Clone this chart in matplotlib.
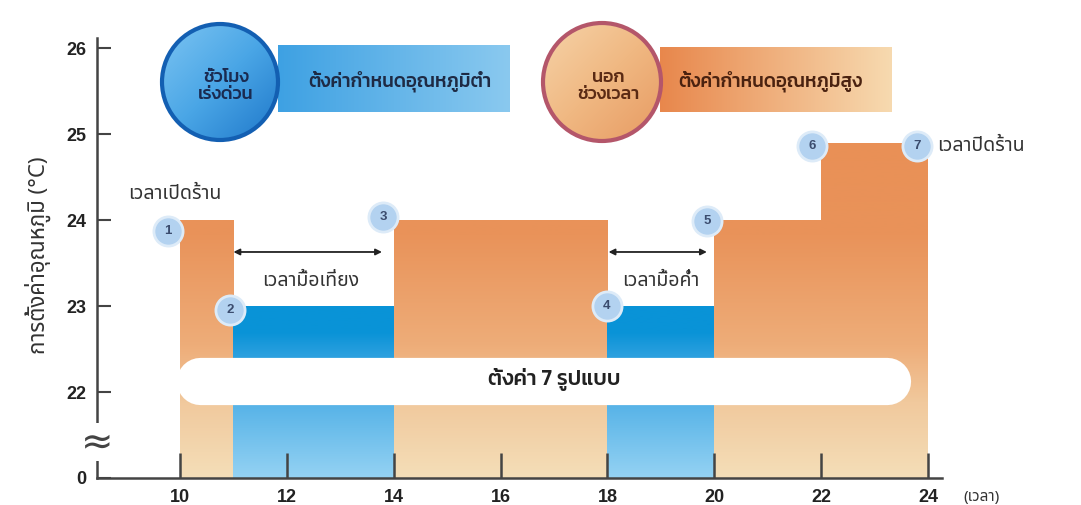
import numpy as np
import matplotlib
matplotlib.use("Agg")
import matplotlib.pyplot as plt
from matplotlib.patches import Circle, Rectangle
from matplotlib.colors import LinearSegmentedColormap
from matplotlib.ticker import FixedLocator, NullLocator

plt.rcParams['font.family'] = ['Noto Sans Thai', 'DejaVu Sans']
num_font = ['Liberation Sans', 'DejaVu Sans']
bold_thai = ['Kanit', 'Noto Sans Thai', 'DejaVu Sans']

# ---- data ----
starts = [10, 11, 14, 18, 20, 22]
ends = [11, 14, 18, 20, 22, 24]
temps = [24, 23, 24, 23, 24, 24.9]
modes = ['high', 'low', 'high', 'low', 'high', 'high']

step_x = [9.78, 10.94, 13.8, 17.99, 19.86, 21.83, 23.79]
step_y = [23.87, 22.95, 24.04, 23.0, 23.99, 24.86, 24.86]
step_labels = ['1', '2', '3', '4', '5', '6', '7']

xticks = [10, 12, 14, 16, 18, 20, 22, 24]
yticks = [0, 22, 23, 24, 25, 26]

# broken y axis: 0..22 squeezed into one unit below 22
def fwd(y):
	y = np.asarray(y, dtype=float)
	return np.where(y >= 22, y, 21 + y / 22.0)

def inv(z):
	z = np.asarray(z, dtype=float)
	return np.where(z >= 22, z, (z - 21) * 22.0)

W, H = 1081, 505
fig = plt.figure(figsize=(W / 100, H / 100), dpi=100)
ax = fig.add_axes([97 / W, 27 / H, (942 - 97) / W, 440 / H])
ax.set_yscale('function', functions=(fwd, inv))

orange_cm = LinearSegmentedColormap.from_list('org', [
	(0.0, '#F4DEB8'), (0.17, '#F1C99D'), (0.3, '#EEAD79'), (0.55, '#E9935A'), (1.0, '#E98D52')])
blue_cm = LinearSegmentedColormap.from_list('blu', [
	(0.0, '#94D2F3'), (0.17, '#55B2E7'), (0.28, '#2A9FDE'), (0.33, '#0993D7'), (1.0, '#0993D7')])
grad = np.linspace(0, 1, 256).reshape(-1, 1)

widths = [e - s for s, e in zip(starts, ends)]
bars = ax.bar(starts, temps, width=widths, bottom=0, align='edge', linewidth=0,
	color=['#EDA46E' if m == 'high' else '#0993D7' for m in modes], zorder=1)
for rect, m in zip(bars, modes):
	cm = orange_cm if m == 'high' else blue_cm
	im = ax.imshow(grad, extent=(0, 1, 0, 1), transform=ax.transAxes, origin='lower',
		aspect='auto', cmap=cm, vmin=0, vmax=1, zorder=1.5)
	im.set_clip_path(rect)

# white pill over the bars
ax.plot([10.38, 23.24], [22.13, 22.13], color='white', lw=34, solid_capstyle='round', zorder=3)
ax.text(17, 22.15, 'ตั้งค่า 7 รูปแบบ', ha='center', va='center', fontsize=15.5,
	fontweight='medium', family=bold_thai, color='#222222', zorder=4)

# lunch / dinner arrows
for x0, x1, lab in [(11.0, 13.78, 'เวลามื้อเที่ยง'), (18.02, 19.86, 'เวลามื้อค่ำ')]:
	ax.annotate('', xy=(x1, 23.63), xytext=(x0, 23.63),
		arrowprops=dict(arrowstyle='<|-|>', color='#222222', lw=1.3, mutation_scale=9,
			shrinkA=0, shrinkB=0), zorder=4)
	ax.text((x0 + x1) / 2 + 0.05, 23.29, lab, ha='center', va='center', fontsize=14, color='#333333')

ax.text(9.03, 24.31, 'เวลาเปิดร้าน', ha='left', va='center', fontsize=14, color='#333333')
ax.text(24.17, 24.86, 'เวลาปิดร้าน', ha='left', va='center', fontsize=14, color='#333333',
	clip_on=False)

# numbered step markers
ax.plot(step_x, step_y, 'o', ms=21, mfc='#B3D2F0', mec='#DDEBF8', mew=2, zorder=6, clip_on=False)
for x, y, s in zip(step_x, step_y, step_labels):
	ax.text(x, y, s, ha='center', va='center', fontsize=9.5, fontweight='bold',
		color='#3B4C6E', family=num_font, zorder=7)

# axes styling
ax.set_xlim(8.447, 24.26)
ax.set_ylim(0, 26.12)
ax.xaxis.set_major_locator(FixedLocator(xticks))
ax.yaxis.set_major_locator(FixedLocator(yticks))
ax.yaxis.set_minor_locator(NullLocator())
ax.set_xticklabels([str(t) for t in xticks])
ax.set_yticklabels([str(t) for t in yticks])
for lab in ax.get_xticklabels() + ax.get_yticklabels():
	lab.set_family(num_font)
	lab.set_fontweight('bold')
	lab.set_fontsize(13)
	lab.set_color('#222222')
ax.tick_params(axis='x', direction='in', length=18, width=1.8, color='#444444', pad=8)
ax.tick_params(axis='y', direction='in', length=10, width=1.5, color='#444444', pad=8)
for side in ['top', 'right']:
	ax.spines[side].set_visible(False)
for side in ['left', 'bottom']:
	ax.spines[side].set_color('#444444')
	ax.spines[side].set_linewidth(1.8)
ax.set_facecolor('none')

# axis break mark
ax.text(0, 0.082, '≈', transform=ax.transAxes, ha='center', va='center', fontsize=28,
	color='#444444', family=['DejaVu Sans'], zorder=8, clip_on=False,
	bbox=dict(boxstyle='square,pad=0.0', fc='white', ec='none'))

fig.text(38 / W, 1 - 255 / H, 'การตั้งค่าอุณหภูมิ (°C)', rotation=90, ha='center', va='center',
	fontsize=16, color='#333333')
ax.text(24.66, -0.045, '(เวลา)', transform=ax.get_xaxis_transform(), ha='left', va='center',
	fontsize=11, color='#333333', clip_on=False)

# header: two mode badges
hx = fig.add_axes([0, 0, 1, 1], zorder=5)
hx.set_xlim(0, W)
hx.set_ylim(H, 0)
hx.axis('off')
hx.patch.set_alpha(0)

hgrad = np.linspace(0, 1, 256).reshape(1, -1)
blue_rect_cm = LinearSegmentedColormap.from_list('br', ['#3EA1E3', '#8AC9EF'])
org_rect_cm = LinearSegmentedColormap.from_list('or', ['#E8874C', '#F7DAB0'])
for (x0, x1, y0, y1, cm, txt, tc, tx) in [
		(278, 510, 45, 112, blue_rect_cm, 'ตั้งค่ากำหนดอุณหภูมิต่ำ', '#1E2A44', 400),
		(660, 892, 47, 112, org_rect_cm, 'ตั้งค่ากำหนดอุณหภูมิสูง', '#4A2210', 770)]:
	r = Rectangle((x0, y0), x1 - x0, y1 - y0, fc='none', ec='none')
	hx.add_patch(r)
	im = hx.imshow(hgrad, extent=(x0, x1, y1, y0), aspect='auto', cmap=cm, zorder=1)
	im.set_clip_path(r)
	hx.text(tx, 81, txt, ha='center', va='center', fontsize=13.5, fontweight='medium',
		family=bold_thai, color=tc, zorder=4)

dgrad = np.add.outer(np.linspace(0, 1, 128), np.linspace(0, 1, 128)) / 2
blue_circ_cm = LinearSegmentedColormap.from_list('bc', ['#7CC4F2', '#4AA6E6', '#1F78CA'])
org_circ_cm = LinearSegmentedColormap.from_list('oc', ['#F6D3A8', '#F0B882', '#E79A62'])
for (cx, cy, rr, cm, ec, txt, tc) in [
		(220, 82, 58, blue_circ_cm, '#135FB2', 'ชั่วโมง\nเร่งด่วน', '#1A2A50'),
		(602, 82, 59, org_circ_cm, '#B4566A', 'นอก\nช่วงเวลา', '#5A2A14')]:
	c = Circle((cx, cy), rr, fc='none', ec='none')
	hx.add_patch(c)
	im = hx.imshow(dgrad, extent=(cx - rr, cx + rr, cy + rr, cy - rr), aspect='auto', cmap=cm,
		zorder=2, origin='upper')
	im.set_clip_path(c)
	hx.add_patch(Circle((cx, cy), rr, fc='none', ec=ec, lw=3, zorder=3))
	hx.text(cx + 6, cy + 4, txt, ha='center', va='center', fontsize=13, fontweight='medium',
		family=bold_thai, color=tc, linespacing=1.0, zorder=4)

hx.set_xlim(0, W)
hx.set_ylim(H, 0)

fig.savefig('out.png', dpi=100)
